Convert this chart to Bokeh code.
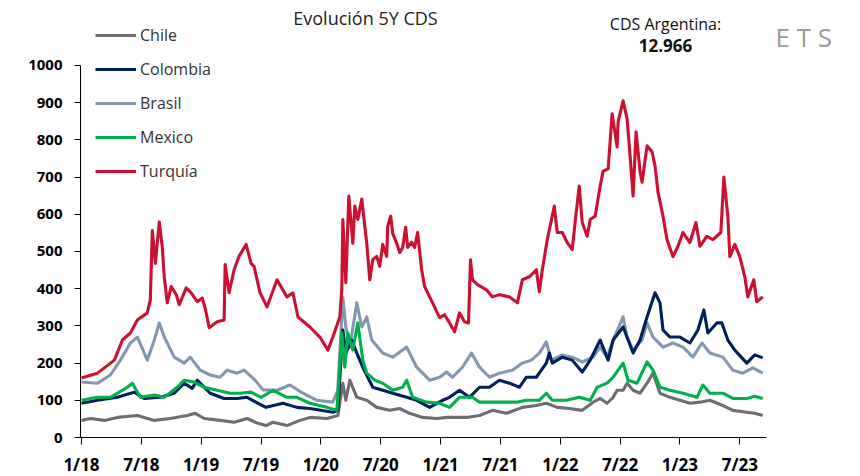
import numpy as np
from bokeh.plotting import figure
from bokeh.models import Range1d, FixedTicker, Legend, LegendItem, Label
from bokeh.embed import file_html
from bokeh.resources import INLINE

# x values: months since January 2018
tick_months = [0, 6, 12, 18, 24, 30, 36, 42, 48, 54, 60, 66]
tick_labels = ["1/18", "7/18", "1/19", "7/19", "1/20", "7/20",
               "1/21", "7/21", "1/22", "7/22", "1/23", "7/23"]
y_ticks = [0, 100, 200, 300, 400, 500, 600, 700, 800, 900, 1000]

tur_x = [0, 1.6, 3.3, 4.1, 4.9, 5.6, 6.6, 6.9, 7.1, 7.4,
         7.8, 8.1, 8.3, 8.6, 9.0, 9.5, 9.8, 10.5, 11.0, 11.6,
         12.1, 12.4, 12.8, 13.6, 14.3, 14.4, 14.8, 15.3, 15.8, 16.5,
         17.0, 17.3, 17.9, 18.6, 19.6, 20.6, 21.2, 21.7, 22.9, 23.9,
         24.7, 25.2, 25.9, 26.1, 26.2, 26.5, 26.8, 27.2, 27.4, 27.7,
         28.1, 28.4, 28.6, 28.9, 29.2, 29.6, 29.9, 30.2, 30.6, 30.7,
         31.0, 31.2, 31.6, 31.9, 32.2, 32.5, 32.7, 33.1, 33.4, 33.7,
         34.1, 34.4, 34.9, 35.2, 35.9, 36.4, 36.9, 37.4, 37.9, 38.4,
         38.8, 39.0, 39.2, 39.7, 40.6, 41.2, 41.9, 42.9, 43.7, 44.2,
         44.9, 45.6, 45.9, 46.2, 46.7, 47.4, 47.7, 48.2, 48.7, 49.2,
         49.6, 49.9, 50.2, 50.7, 51.0, 51.5, 52.0, 52.3, 52.8, 53.2,
         53.7, 53.8, 54.3, 54.7, 55.0, 55.3, 55.6, 56.0, 56.2, 56.7,
         57.2, 57.5, 57.8, 58.3, 58.7, 59.3, 59.8, 60.3, 61.0, 61.6,
         62.0, 62.7, 63.3, 64.1, 64.4, 64.8, 65.0, 65.5, 66.0, 66.5,
         66.8, 67.4, 67.7, 68.3]
tur_y = [160, 173, 208, 262, 281, 316, 335, 370, 556, 468,
         579, 511, 431, 362, 406, 384, 357, 402, 389, 365,
         375, 348, 295, 311, 316, 465, 389, 451, 487, 519,
         468, 460, 389, 351, 424, 378, 389, 324, 297, 270,
         235, 270, 324, 400, 586, 416, 649, 522, 622, 586,
         641, 568, 522, 424, 478, 487, 460, 519, 487, 568,
         595, 549, 522, 497, 511, 565, 511, 525, 511, 551,
         451, 406, 378, 362, 322, 330, 308, 284, 335, 311,
         308, 478, 424, 411, 397, 378, 384, 378, 362, 424,
         432, 451, 392, 451, 532, 622, 551, 551, 524, 505,
         605, 676, 578, 541, 586, 595, 676, 716, 722, 870,
         781, 849, 905, 857, 757, 649, 822, 714, 686, 784,
         768, 730, 659, 595, 532, 486, 514, 551, 524, 578,
         514, 541, 532, 551, 700, 595, 486, 519, 486, 432,
         378, 424, 365, 378]

bra_x = [0, 1.6, 2.9, 3.9, 4.9, 5.6, 6.6, 7.3, 7.8, 8.3,
         9.3, 10.3, 10.9, 11.9, 12.9, 13.9, 14.6, 15.6, 16.3, 17.4,
         18.2, 19.6, 20.9, 22.2, 23.6, 25.2, 25.7, 26.2, 26.5, 26.9,
         27.6, 28.1, 28.6, 29.1, 30.2, 31.2, 32.6, 33.6, 34.9, 35.9,
         36.6, 37.2, 38.2, 39.1, 39.9, 40.9, 41.9, 43.2, 44.2, 45.1,
         45.9, 46.6, 47.1, 48.2, 49.2, 50.2, 51.3, 52.0, 52.7, 53.3,
         54.3, 54.7, 55.3, 56.2, 56.7, 57.3, 58.3, 59.3, 60.3, 61.3,
         62.2, 63.0, 64.3, 65.3, 66.3, 67.3, 68.3]
bra_y = [149, 146, 168, 208, 254, 270, 208, 262, 308, 270,
         216, 200, 216, 181, 168, 162, 181, 173, 181, 154,
         128, 127, 141, 119, 100, 95, 127, 376, 297, 243,
         362, 297, 324, 262, 227, 216, 243, 189, 154, 162,
         176, 162, 189, 227, 189, 162, 173, 181, 200, 208,
         227, 257, 208, 222, 216, 203, 216, 243, 216, 262,
         324, 270, 235, 262, 308, 270, 243, 254, 243, 216,
         254, 227, 216, 181, 173, 187, 173]

col_x = [0, 1.6, 3.6, 5.3, 6.3, 7.9, 9.3, 10.3, 11.1, 11.6,
         12.9, 14.3, 15.6, 16.6, 17.7, 18.5, 20.2, 21.6, 22.9, 25.2,
         25.7, 26.2, 26.5, 27.1, 27.6, 28.2, 29.2, 30.2, 31.2, 32.6,
         33.6, 34.9, 36.2, 36.9, 37.9, 38.9, 39.9, 40.9, 41.9, 42.9,
         43.9, 44.6, 45.6, 46.6, 46.9, 47.2, 48.2, 49.2, 50.2, 51.0,
         52.0, 52.8, 53.3, 54.3, 55.3, 56.0, 56.7, 57.5, 58.0, 58.3,
         59.0, 60.0, 61.0, 61.8, 62.4, 62.8, 63.7, 64.2, 64.8, 65.5,
         66.7, 67.5, 68.3]
col_y = [92, 100, 108, 122, 105, 108, 119, 146, 132, 154,
         119, 105, 105, 108, 92, 81, 92, 81, 78, 68,
         73, 289, 227, 262, 227, 189, 135, 127, 119, 108,
         100, 81, 100, 108, 127, 108, 135, 135, 154, 146,
         135, 162, 162, 200, 227, 200, 216, 208, 176, 208,
         262, 208, 262, 297, 227, 262, 324, 389, 362, 289,
         270, 270, 254, 289, 343, 281, 308, 308, 262, 235,
         200, 222, 214]

mex_x = [0, 1.6, 2.9, 4.6, 5.1, 5.9, 7.3, 8.3, 9.6, 10.3,
         11.3, 12.3, 13.6, 14.9, 15.9, 17.0, 18.0, 19.2, 20.6, 21.6,
         22.9, 24.6, 25.6, 26.1, 26.4, 26.7, 27.2, 27.7, 28.2, 28.6,
         29.4, 30.2, 31.2, 32.2, 32.6, 33.2, 34.6, 35.9, 36.9, 37.9,
         39.2, 39.9, 41.9, 43.6, 44.6, 45.9, 46.6, 47.2, 48.6, 49.9,
         51.0, 51.7, 52.7, 53.3, 54.3, 54.8, 55.7, 56.7, 57.3, 58.0,
         59.0, 60.3, 61.7, 62.3, 63.0, 64.3, 65.3, 66.7, 67.5, 68.3]
mex_y = [100, 108, 108, 135, 146, 108, 114, 108, 135, 154,
         149, 135, 127, 119, 119, 122, 108, 127, 108, 108,
         92, 81, 73, 281, 189, 281, 235, 308, 208, 173,
         154, 146, 127, 135, 154, 108, 95, 92, 81, 108,
         108, 95, 95, 95, 100, 100, 119, 100, 100, 108,
         100, 135, 146, 162, 200, 154, 146, 203, 181, 135,
         127, 119, 108, 141, 119, 119, 105, 105, 111, 105]

chi_x = [0, 0.9, 2.3, 3.6, 5.6, 7.3, 8.9, 10.6, 11.4, 12.3,
         13.9, 15.3, 16.6, 17.7, 18.5, 19.2, 20.6, 21.9, 22.9, 24.6,
         25.7, 26.2, 26.5, 26.9, 27.6, 28.6, 29.6, 30.9, 31.9, 32.9,
         34.2, 35.6, 36.7, 38.6, 39.9, 41.2, 42.6, 44.2, 45.6, 46.6,
         47.7, 48.9, 50.2, 51.3, 52.0, 52.7, 53.3, 53.7, 54.3, 54.7,
         55.3, 56.0, 56.7, 57.3, 58.0, 59.0, 60.0, 61.0, 62.0, 63.0,
         64.3, 65.3, 66.7, 67.5, 68.3]
chi_y = [46, 51, 46, 54, 59, 46, 51, 59, 65, 51,
         46, 41, 51, 38, 32, 41, 32, 46, 54, 51,
         59, 146, 100, 154, 108, 100, 81, 73, 78, 65,
         54, 51, 54, 54, 59, 73, 65, 81, 86, 92,
         81, 78, 73, 95, 105, 92, 108, 127, 127, 146,
         127, 119, 146, 173, 119, 108, 100, 92, 95, 100,
         86, 73, 68, 65, 59]

series_names = ["Chile", "Colombia", "Brasil", "Mexico", "Turquía"]
series_colors = ["#6e6e72", "#00205b", "#8497b0", "#00b050", "#cc1030"]

FONT = "Open Sans"

# frame spans the whole upper/right area so that legend and texts are not clipped;
# the axes themselves are limited to the data extent with `bounds`
p = figure(frame_width=780, frame_height=437, output_backend="svg", toolbar_location=None,
           x_range=Range1d(-0.1, 78.1), y_range=Range1d(0, 1174.7),
           min_border_left=80, min_border_right=0, min_border_top=0,
           min_border_bottom=39)
p.outline_line_color = None
p.xgrid.grid_line_color = None
p.ygrid.grid_line_color = None
p.background_fill_color = "white"

data = {
    "Chile": (chi_x, chi_y),
    "Colombia": (col_x, col_y),
    "Brasil": (bra_x, bra_y),
    "Mexico": (mex_x, mex_y),
    "Turquía": (tur_x, tur_y),
}
renderers = {}
for name in ["Chile", "Brasil", "Colombia", "Mexico", "Turquía"]:
    xs, ys = data[name]
    color = series_colors[series_names.index(name)]
    renderers[name] = p.line(xs, ys, line_color=color, line_width=3.1,
                             line_join="round")

for ax in (p.xaxis[0], p.yaxis[0]):
    ax.axis_line_color = "black"
    ax.major_tick_line_color = "black"
    ax.minor_tick_line_color = None
    ax.major_tick_in = 0
    ax.major_label_text_font = FONT
    ax.major_label_text_font_style = "bold"
    ax.major_label_text_color = "black"

p.yaxis[0].ticker = FixedTicker(ticks=y_ticks)
p.yaxis[0].bounds = (0, 1000)
p.yaxis[0].major_tick_out = 6
p.yaxis[0].major_label_standoff = 12
p.yaxis[0].major_label_text_font_size = "15px"

p.xaxis[0].ticker = FixedTicker(ticks=tick_months)
p.xaxis[0].bounds = (-0.1, 68.7)
p.xaxis[0].major_label_overrides = {m: l for m, l in zip(tick_months, tick_labels)}
p.xaxis[0].major_tick_out = 7
p.xaxis[0].major_label_standoff = 8
p.xaxis[0].major_label_text_font_size = "17px"

legend = Legend(items=[LegendItem(label=n, renderers=[renderers[n]]) for n in series_names],
                location=(15, 255), orientation="vertical",
                glyph_width=41, glyph_height=20, label_height=20, spacing=12,
                label_standoff=4, padding=0, margin=0,
                border_line_color=None, background_fill_alpha=0,
                label_text_font=FONT, label_text_font_size="16px",
                label_text_color="#333333")
p.add_layout(legend)

p.add_layout(Label(x=285, y=420, x_units="screen", y_units="screen",
                   text="Evolución 5Y CDS", text_align="center", text_baseline="middle",
                   text_font=FONT, text_font_size="18px", text_color="#222222"))
p.add_layout(Label(x=585, y=414, x_units="screen", y_units="screen",
                   text="CDS Argentina:", text_align="center", text_baseline="middle",
                   text_font=FONT, text_font_size="16px", text_color="#111111"))
p.add_layout(Label(x=585, y=392, x_units="screen", y_units="screen",
                   text="12.966", text_align="center", text_baseline="middle",
                   text_font=FONT, text_font_size="17px", text_font_style="bold",
                   text_color="#111111"))
p.add_layout(Label(x=695, y=401, x_units="screen", y_units="screen",
                   text="E  T  S", text_align="left", text_baseline="middle",
                   text_font=FONT, text_font_size="26px", text_color="#9a9a9a"))

open("out.html", "w").write(file_html(p, INLINE))
